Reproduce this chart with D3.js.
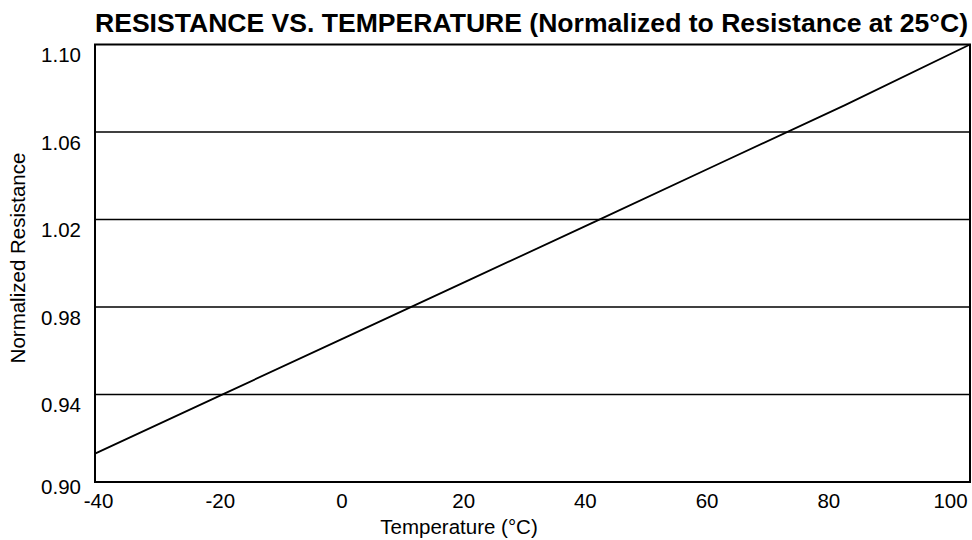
<!DOCTYPE html>
<html>
<head>
<meta charset="utf-8">
<script src="https://cdn.jsdelivr.net/npm/d3@7"></script>
<style>
  html, body { margin: 0; padding: 0; background: #fff; }
  svg { display: block; }
  text { font-family: "Liberation Sans", Arial, sans-serif; fill: #000; }
</style>
</head>
<body>
<svg id="chart" width="972" height="540"></svg>
<script>
// ---- data ----
const temperatures = [-40, -20, 0, 20, 40, 60, 80, 100];
const normalizedResistance = [0.913, 0.9395, 0.966, 0.9925, 1.019, 1.0457, 1.0723, 1.100];
const xTickValues = [-40, -20, 0, 20, 40, 60, 80, 100];
const yTickValues = [0.90, 0.94, 0.98, 1.02, 1.06, 1.10];
const yTickLabels = ["0.90", "0.94", "0.98", "1.02", "1.06", "1.10"];
const titleText = "RESISTANCE VS. TEMPERATURE (Normalized to Resistance at 25°C)";
const xAxisTitle = "Temperature (°C)";
const yAxisTitle = "Normalized Resistance";

// ---- layout ----
const svg = d3.select("#chart");
const plotLeft = 95, plotRight = 970, plotTop = 44.5, plotBottom = 482;

const x = d3.scaleLinear().domain([-40, 100]).range([plotLeft, plotRight]);
const y = d3.scaleLinear().domain([0.90, 1.10]).range([plotBottom, plotTop]);
// tick labels in the reference sit on a slightly narrower span than the frame
const xLabel = d3.scaleLinear().domain([-40, 100]).range([98, 950]);

// gridlines
svg.append("g")
  .selectAll("line")
  .data(yTickValues.filter(v => v > 0.90 && v < 1.10))
  .join("line")
  .attr("x1", plotLeft).attr("x2", plotRight)
  .attr("y1", d => y(d)).attr("y2", d => y(d))
  .attr("stroke", "#000").attr("stroke-width", 1.6);

// data line
const line = d3.line().x((d, i) => x(temperatures[i])).y(d => y(d));
svg.append("path")
  .datum(normalizedResistance)
  .attr("d", line)
  .attr("fill", "none")
  .attr("stroke", "#000")
  .attr("stroke-width", 1.8);

// frame
svg.append("rect")
  .attr("x", plotLeft).attr("y", plotTop)
  .attr("width", plotRight - plotLeft).attr("height", plotBottom - plotTop)
  .attr("fill", "none").attr("stroke", "#000").attr("stroke-width", 2);

// y axis labels
const yAxis = d3.axisLeft(y).tickValues(yTickValues)
  .tickFormat((d, i) => yTickLabels[i]).tickSize(0).tickPadding(14);
const gy = svg.append("g").attr("transform", `translate(${plotLeft},0)`).call(yAxis);
gy.select(".domain").remove();
gy.selectAll("text")
  .attr("dy", null)
  .attr("y", d => (d === 0.90 ? 11.3 : 17))
  .style("font-size", "20.5px")
  .style("font-family", "'Liberation Sans', Arial, sans-serif");

// x axis labels
const xAxis = d3.axisBottom(xLabel).tickValues(xTickValues).tickSize(0).tickFormat(d3.format("d"));
const gx = svg.append("g").attr("transform", `translate(0,${plotBottom})`).call(xAxis);
gx.select(".domain").remove();
gx.selectAll("text")
  .attr("dy", null)
  .attr("y", 25.5)
  .style("font-size", "20.5px")
  .style("font-family", "'Liberation Sans', Arial, sans-serif")
  .text(d => d < 0 ? "-" + Math.abs(d) : String(d));

// title
svg.append("text")
  .attr("x", 531.5).attr("y", 32)
  .attr("text-anchor", "middle")
  .attr("textLength", 873)
  .attr("lengthAdjust", "spacingAndGlyphs")
  .style("font-size", "25px")
  .style("font-weight", "bold")
  .text(titleText);

// axis titles
svg.append("text")
  .attr("x", 459).attr("y", 534)
  .attr("text-anchor", "middle")
  .style("font-size", "20.5px")
  .text(xAxisTitle);

svg.append("text")
  .attr("transform", "translate(25,258) rotate(-90)")
  .attr("text-anchor", "middle")
  .style("font-size", "20.5px")
  .text(yAxisTitle);
</script>
</body>
</html>
